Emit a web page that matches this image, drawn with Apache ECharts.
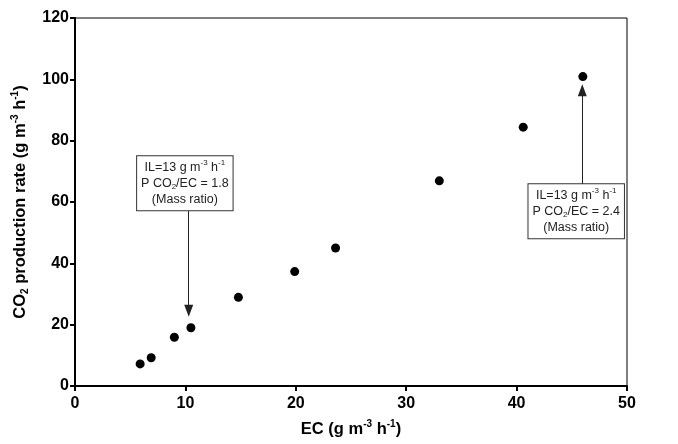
<!DOCTYPE html>
<html>
<head>
<meta charset="utf-8">
<script src="https://cdn.jsdelivr.net/npm/echarts@6/dist/echarts.min.js"></script>
<style>
  html, body { margin: 0; padding: 0; background: #fff; }
  #main { width: 678px; height: 444px; }
</style>
</head>
<body>
<div id="main"></div>
<script>
// EC (g m-3 h-1) 与 CO2 产生速率
const ecValues = [5.9, 6.9, 9.0, 10.5, 14.8, 19.9, 23.6, 33.0, 40.6, 46.0]
const co2Values = [7.2, 9.2, 15.9, 19.0, 28.9, 37.3, 45.0, 66.9, 84.4, 100.9]

// 注释框: 中心坐标 + 箭头起止点 (数据坐标)
const noteText = [
  '{t|IL=13 g m}{sup|-3}{t| h}{sup|-1}\n{t|P CO}{sub|2}{t|/EC = 1.8}\n{t|(Mass ratio)}',
  '{t|IL=13 g m}{sup|-3}{t| h}{sup|-1}\n{t|P CO}{sub|2}{t|/EC = 2.4}\n{t|(Mass ratio)}'
]
const noteCenter = [[9.95, 66.1], [45.4, 57.0]]
const arrowFrom = [[10.3, 57.3], [45.95, 65.7]]
const arrowTo = [[10.3, 24.5], [45.95, 96.4]]

const myChart = echarts.init(document.getElementById('main'))

const font = 'Liberation Sans, Arial, sans-serif'
const noteRich = {
  t: { fontSize: 12.5, fontFamily: font, color: '#222', lineHeight: 16 },
  sup: { fontSize: 8, fontFamily: font, color: '#222', lineHeight: 16, verticalAlign: 'top' },
  sub: { fontSize: 8, fontFamily: font, color: '#222', lineHeight: 16, verticalAlign: 'bottom' }
}
const nameRich = {
  n: { fontSize: 16.5, fontWeight: 'bold', fontFamily: font, color: '#000', lineHeight: 20 },
  sup: { fontSize: 10, fontWeight: 'bold', fontFamily: font, color: '#000', lineHeight: 20, verticalAlign: 'top' },
  sub: { fontSize: 10, fontWeight: 'bold', fontFamily: font, color: '#000', lineHeight: 20, verticalAlign: 'bottom' }
}

const option = {
  animation: false,
  grid: {
    left: 75, right: 51, top: 18, bottom: 58,
    outerBoundsMode: 'none',
    show: true, borderColor: '#000', borderWidth: 1
  },
  xAxis: {
    type: 'value', min: 0, max: 50, interval: 10,
    name: '{n|EC (g m}{sup|-3}{n| h}{sup|-1}{n|)}',
    nameLocation: 'middle', nameGap: 33,
    nameTextStyle: { rich: nameRich },
    axisLine: { lineStyle: { color: '#000', width: 2 } },
    axisTick: { length: 5, lineStyle: { color: '#000', width: 2 } },
    axisLabel: { fontSize: 16, fontWeight: 'bold', fontFamily: font, color: '#000', margin: 10 },
    splitLine: { show: false }
  },
  yAxis: {
    type: 'value', min: 0, max: 120, interval: 20,
    name: '{n|CO}{sub|2}{n| production rate (g m}{sup|-3}{n| h}{sup|-1}{n|)}',
    nameLocation: 'middle', nameGap: 45, nameRotate: 90,
    nameTextStyle: { rich: nameRich },
    axisLine: { lineStyle: { color: '#000', width: 2 } },
    axisTick: { length: 5, lineStyle: { color: '#000', width: 2 } },
    axisLabel: { fontSize: 16, fontWeight: 'bold', fontFamily: font, color: '#000', margin: 6 },
    splitLine: { show: false }
  },
  series: [{
    type: 'scatter',
    symbol: 'circle',
    symbolSize: 9,
    itemStyle: { color: '#000', opacity: 1 },
    data: ecValues.map((x, i) => [x, co2Values[i]]),
    markLine: {
      silent: true,
      symbol: ['none', 'triangle'],
      symbolSize: [9, 12],
      lineStyle: { color: '#222', width: 1, type: 'solid' },
      label: { show: false },
      data: arrowFrom.map((p, i) => [{ coord: p }, { coord: arrowTo[i] }])
    },
    markPoint: {
      silent: true,
      symbol: 'rect',
      symbolSize: 1,
      itemStyle: { color: 'rgba(0,0,0,0)' },
      label: {
        show: true, position: 'inside',
        backgroundColor: '#fff', borderColor: '#333', borderWidth: 1,
        padding: [3, 4, 3, 4],
        rich: noteRich
      },
      data: noteCenter.map((c, i) => ({
        coord: c,
        label: { formatter: noteText[i] }
      }))
    }
  }]
}
myChart.setOption(option)
</script>
</body>
</html>
